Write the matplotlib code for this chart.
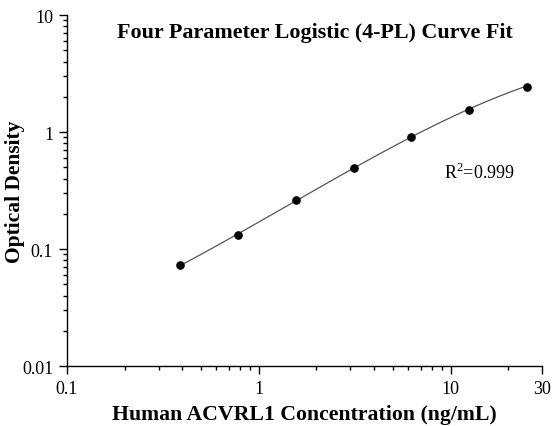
import numpy as np
import matplotlib
matplotlib.use('Agg')
import matplotlib.pyplot as plt
from matplotlib.ticker import FixedLocator, NullFormatter, LogLocator

conc = [0.39, 0.78, 1.56, 3.125, 6.25, 12.5, 25]
od = [0.073, 0.132, 0.262, 0.492, 0.906, 1.54, 2.43]
r2_text = 'R$^2$=0.999'

plt.rcParams['font.family'] = ['Liberation Serif', 'DejaVu Serif']
plt.rcParams['mathtext.fontset'] = 'custom'
plt.rcParams['mathtext.rm'] = 'Liberation Serif'

x = np.array(conc)
y = np.array(od)


def four_pl(xx, a, b, c, d):
    return d + (a - d) / (1 + (xx / c) ** b)


# coarse grid search for the 4-PL fit (log residuals)
best = None
for a in np.linspace(0.0, 0.05, 11):
    for d in np.geomspace(3, 100, 40):
        bb, cc = np.meshgrid(np.linspace(0.6, 2.0, 71), np.geomspace(1, 500, 80))
        pred = four_pl(x[None, None, :], a, bb[..., None], cc[..., None], d)
        err = np.sum((np.log(np.clip(pred, 1e-6, None)) - np.log(y)) ** 2, axis=-1)
        i = np.unravel_index(np.argmin(err), err.shape)
        if best is None or err[i] < best[0]:
            best = (err[i], a, bb[i], cc[i], d)
_, a, b, c, d = best

xs = np.geomspace(x.min(), x.max(), 300)

fig = plt.figure(figsize=(5.53, 4.27), dpi=100)
ax = fig.add_axes([0.1212, 0.1405, 0.8589, 0.822])
ax.plot(xs, four_pl(xs, a, b, c, d), color='#555555', lw=0.9)
ax.plot(x, y, 'o', color='black', markersize=5.2)

ax.set_xscale('log')
ax.set_yscale('log')
ax.set_xlim(0.1, 30)
ax.set_ylim(0.01, 10)

ax.xaxis.set_major_locator(FixedLocator([0.1, 1, 10, 30]))
ax.set_xticklabels(['0.1', '1', '10', '30'])
ax.xaxis.set_minor_locator(FixedLocator([0.2, 0.3, 0.4, 0.5, 0.6, 0.7, 0.8, 0.9,
                                         2, 3, 4, 5, 6, 7, 8, 9, 20]))
ax.xaxis.set_minor_formatter(NullFormatter())
ax.yaxis.set_major_locator(FixedLocator([0.01, 0.1, 1, 10]))
ax.set_yticklabels(['0.01', '0.1', '1', '10'])
ax.yaxis.set_minor_locator(LogLocator(base=10, subs=np.arange(2, 10)))
ax.yaxis.set_minor_formatter(NullFormatter())

ax.tick_params(which='major', direction='out', length=6, width=1, labelsize=13, pad=4)
ax.tick_params(which='minor', direction='out', length=3, width=1)
for s in ['top', 'right']:
    ax.spines[s].set_visible(False)
for s in ['left', 'bottom']:
    ax.spines[s].set_linewidth(1)

ax.set_xlabel('Human ACVRL1 Concentration (ng/mL)', fontsize=15.7, fontweight='bold', labelpad=5)
ax.set_ylabel('Optical Density', fontsize=15.5, fontweight='bold')
ax.yaxis.set_label_coords(-0.088, 0.5)
fig.text(0.569, 0.922, 'Four Parameter Logistic (4-PL) Curve Fit', fontsize=15.8,
         fontweight='bold', ha='center', va='center')
ax.text(9.3, 0.455, r2_text, fontsize=13, va='center', ha='left')

fig.savefig('out.png', dpi=100)
